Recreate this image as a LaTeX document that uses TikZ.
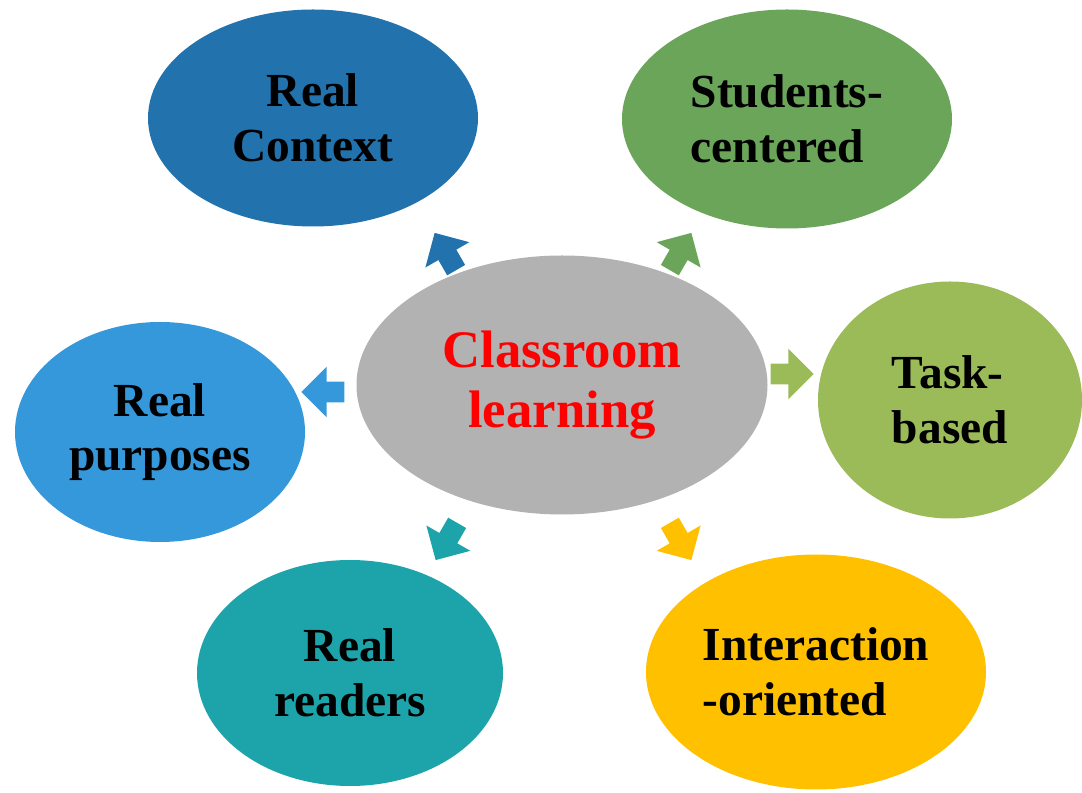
\documentclass[tikz,border=0pt]{standalone}
\usepackage{fontspec}
\setmainfont{Liberation Serif}
\usepackage{tikz}
\usetikzlibrary{shapes.geometric,shapes.arrows}
\definecolor{ctxblue}{RGB}{33,114,173}
\definecolor{stugreen}{RGB}{106,165,90}
\definecolor{taskgreen}{RGB}{155,187,89}
\definecolor{purpblue}{RGB}{53,152,219}
\definecolor{midgray}{RGB}{178,178,178}
\definecolor{readteal}{RGB}{29,164,170}
\definecolor{interyellow}{RGB}{255,192,0}
\tikzset{
  bub/.style = {ellipse, draw=none, inner sep=0pt, align=center, font=\bfseries\fontsize{27}{31}\selectfont},
  bub_l/.style = {bub, align=left},
  arw/.style = {single arrow, draw=none, fill=#1, inner sep=0.2cm, minimum height=0.86cm, single arrow head extend=0.3cm},
}

\begin{document}
\begin{tikzpicture}
  \useasboundingbox (0,0) rectangle (21.64,-15.86);
  \node [bub, fill=ctxblue, minimum width=6.6cm, minimum height=4.34cm] (ctx) at (6.26,-2.36) {Real\\Context};
  \node [bub_l, fill=stugreen, minimum width=6.6cm, minimum height=4.38cm] (stu) at (15.74,-2.38) {Students-\\centered};
  \node [bub_l, fill=taskgreen, minimum width=5.28cm, minimum height=4.74cm] (task) at (19.0,-8.0) {Task-\\based};
  \node [bub, fill=purpblue, minimum width=5.8cm, minimum height=4.4cm] (purp) at (3.2,-8.64) {Real\\purposes};
  \node [bub, fill=midgray, minimum width=8.22cm, minimum height=5.18cm, text=red, font=\bfseries\fontsize{30}{34}\selectfont] (cls) at (11.24,-7.7) {Classroom\\learning};
  \node [bub, fill=readteal, minimum width=6.12cm, minimum height=4.52cm] (read) at (7.0,-13.46) {Real\\readers};
  \node [bub_l, fill=interyellow, minimum width=6.8cm, minimum height=4.7cm] (inter) at (16.32,-13.44) {Interaction\\-oriented};
  % arrows out of the middle
  \node [arw=ctxblue, rotate=120] (a_ctx) at (8.96,-5.12) {};
  \node [arw=stugreen, rotate=60] (a_stu) at (13.56,-5.12) {};
  \node [arw=taskgreen] (a_task) at (15.74,-7.48) {};
  \node [arw=purpblue, rotate=180] (a_purp) at (6.56,-7.84) {};
  \node [arw=readteal, rotate=240] (a_read) at (8.98,-10.74) {};
  \node [arw=interyellow, rotate=300] (a_inter) at (13.56,-10.74) {};
\end{tikzpicture}
\end{document}
